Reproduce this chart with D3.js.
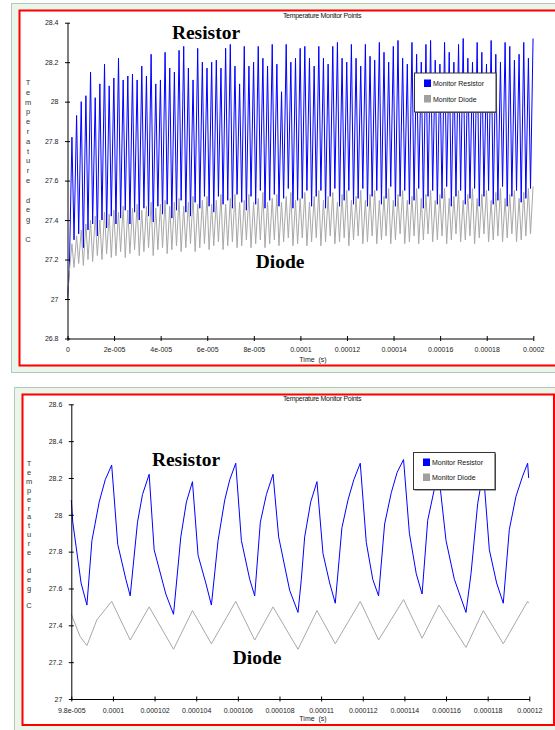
<!DOCTYPE html>
<html><head><meta charset="utf-8">
<script src="https://cdn.jsdelivr.net/npm/d3@7"></script>
<style>body{margin:0;background:#fff}svg{display:block}</style>
</head><body><svg id="c" width="555" height="730"></svg>
<script>
// ---------- DATA (top chart: per-cycle extremes, period 2 µs) ----------
const topResPeak = [27.82,27.93,28.00,28.03,28.15,28.02,28.09,28.19,28.08,28.12,
 28.22,28.11,28.13,28.14,28.11,28.18,28.13,28.24,28.09,28.11,
 28.25,28.17,28.15,28.26,28.28,28.17,28.11,28.27,28.20,28.17,
 28.20,28.21,28.17,28.27,28.29,28.18,28.09,28.28,28.18,28.20,
 28.28,28.22,28.18,28.29,28.19,28.05,28.29,28.20,28.22,28.27,
 28.28,28.22,28.18,28.28,28.22,28.19,28.28,28.30,28.22,28.20,
 28.29,28.22,28.18,28.29,28.23,28.21,28.30,28.25,28.20,28.28,
 28.31,28.22,28.19,28.30,28.24,28.20,28.29,28.31,28.21,28.19,
 28.30,28.25,28.20,28.29,28.32,28.22,28.20,28.30,28.25,28.19,
 28.31,28.24,28.20,28.30,28.28,28.21,28.24,28.30,28.22,28.32];
const topResTrough = [27.15,27.30,27.33,27.26,27.35,27.38,27.32,27.40,27.36,27.42,
 27.38,27.41,27.45,27.38,27.44,27.40,27.46,27.42,27.39,27.47,
 27.43,27.48,27.41,27.45,27.50,27.44,27.42,27.49,27.46,27.52,
 27.47,27.44,27.52,27.48,27.50,27.46,27.53,27.49,27.45,27.52,
 27.48,27.55,27.46,27.50,27.53,27.47,27.51,27.56,27.46,27.50,
 27.51,27.55,27.47,27.52,27.55,27.46,27.52,27.56,27.47,27.50,
 27.55,27.48,27.51,27.56,27.47,27.52,27.55,27.48,27.51,27.57,
 27.47,27.52,27.55,27.48,27.50,27.56,27.46,27.52,27.55,27.48,
 27.51,27.57,27.47,27.52,27.55,27.48,27.51,27.56,27.47,27.52,
 27.55,27.48,27.50,27.57,27.47,27.52,27.55,27.49,27.51,27.56];
const topDioPeak = [27.28,27.32,27.35,27.38,27.40,27.42,27.40,27.44,27.43,27.45,
 27.44,27.47,27.45,27.46,27.48,27.45,27.47,27.49,27.46,27.48,
 27.50,27.47,27.49,27.51,27.47,27.49,27.52,27.48,27.50,27.52,
 27.48,27.50,27.53,27.48,27.51,27.53,27.49,27.50,27.53,27.49,
 27.51,27.54,27.49,27.51,27.53,27.49,27.52,27.54,27.50,27.51,
 27.54,27.49,27.52,27.55,27.50,27.52,27.54,27.49,27.53,27.55,
 27.50,27.52,27.55,27.50,27.53,27.55,27.50,27.52,27.56,27.50,
 27.53,27.55,27.50,27.52,27.56,27.51,27.53,27.55,27.50,27.53,
 27.56,27.51,27.52,27.55,27.50,27.53,27.56,27.51,27.53,27.55,
 27.50,27.54,27.56,27.51,27.53,27.55,27.51,27.54,27.56,27.57];
const topDioTrough = [27.14,27.16,27.18,27.17,27.20,27.19,27.22,27.20,27.23,27.21,
 27.22,27.24,27.21,27.23,27.25,27.22,27.24,27.26,27.22,27.25,
 27.26,27.23,27.25,27.27,27.24,27.26,27.28,27.24,27.26,27.28,
 27.25,27.27,27.29,27.25,27.27,27.29,27.26,27.27,27.30,27.26,
 27.28,27.30,27.26,27.28,27.30,27.27,27.29,27.31,27.27,27.28,
 27.31,27.27,27.29,27.31,27.27,27.29,27.32,27.28,27.29,27.31,
 27.27,27.30,27.32,27.28,27.29,27.32,27.28,27.30,27.32,27.28,
 27.30,27.33,27.28,27.29,27.32,27.28,27.30,27.33,27.29,27.30,
 27.32,27.28,27.30,27.33,27.29,27.30,27.32,27.28,27.31,27.33,
 27.29,27.30,27.32,27.29,27.31,27.33,27.29,27.30,27.32,27.33];
const topStartValue = 27.0;

// ---------- DATA (bottom chart, µs / °C) ----------
const botResTime = [98.0,98.07,98.47,98.75,98.99,99.34,99.63,99.94,100.23,100.62,100.83,101.18,101.42,101.74,
 101.98,102.54,102.91,103.26,103.53,103.82,104.09,104.46,104.73,105.05,105.37,105.61,105.90,
 106.17,106.57,106.81,107.08,107.37,107.69,107.96,108.49,108.89,109.05,109.21,109.50,109.80,
 110.09,110.41,110.68,111.00,111.29,111.57,111.88,112.17,112.48,112.76,113.05,113.37,113.65,113.96,
 114.24,114.57,114.85,115.12,115.44,115.66,116.00,116.40,116.96,117.20,117.52,117.79,
 118.08,118.43,118.75,119.04,119.36,119.68,119.92,119.97];
const botResValue = [28.08,27.96,27.63,27.51,27.86,28.07,28.19,28.27,27.84,27.65,27.56,27.96,28.11,28.22,
 27.81,27.57,27.46,27.88,28.07,28.18,27.78,27.63,27.51,27.86,28.08,28.19,28.28,
 27.86,27.65,27.56,27.96,28.11,28.22,27.88,27.59,27.47,27.65,27.88,28.07,28.18,
 27.79,27.63,27.52,27.93,28.08,28.19,28.28,27.85,27.65,27.56,27.95,28.12,28.23,28.30,
 27.90,27.68,27.57,27.97,28.14,28.21,27.86,27.65,27.47,27.68,28.06,28.24,
 27.81,27.63,27.52,27.92,28.10,28.21,28.28,28.20];
const botDioTime = [98.0,98.42,98.75,99.23,99.94,100.83,101.74,102.91,103.82,104.73,105.90,106.81,107.69,
 108.89,109.80,110.68,111.88,112.76,113.96,114.85,115.66,116.96,117.79,118.75,119.92,119.97];
const botDioValue = [27.46,27.34,27.29,27.43,27.53,27.32,27.50,27.27,27.48,27.30,27.53,27.32,27.50,
 27.27,27.48,27.30,27.53,27.32,27.54,27.33,27.51,27.28,27.48,27.30,27.53,27.52];

const seriesNames = ["Monitor Resistor","Monitor Diode"];
const seriesColors = ["#0000ff","#a8a8a8"];
const title = "Temperature Monitor Points";
const yLabel = "Temperature deg C";
const xLabel = "Time  (s)";
const topYTicks = [26.8,27,27.2,27.4,27.6,27.8,28,28.2,28.4];
const topXTicks = [0,2e-5,4e-5,6e-5,8e-5,1e-4,1.2e-4,1.4e-4,1.6e-4,1.8e-4,2e-4];
const topXTickLabels = ["0","2e-005","4e-005","6e-005","8e-005","0.0001","0.00012","0.00014","0.00016","0.00018","0.0002"];
const botYTicks = [27,27.2,27.4,27.6,27.8,28,28.2,28.4,28.6];
const botXTicks = [9.8e-5,1e-4,1.02e-4,1.04e-4,1.06e-4,1.08e-4,1.1e-4,1.12e-4,1.14e-4,1.16e-4,1.18e-4,1.2e-4];
const botXTickLabels = ["9.8e-005","0.0001","0.000102","0.000104","0.000106","0.000108","0.00011","0.000112","0.000114","0.000116","0.000118","0.00012"];

// ---------- build series ----------
const period = 2e-6;
function cycles(peaks, troughs){
  const pts=[[0, topStartValue]];
  peaks.forEach((p,k)=>{ pts.push([k*period+0.8e-6, troughs[k]]); pts.push([k*period+1.9e-6, p]); });
  return pts;
}
const topRes = cycles(topResPeak, topResTrough);
const topDio = cycles(topDioPeak, topDioTrough);
const botRes = botResTime.map((t,i)=>[t*1e-6, botResValue[i]]);
const botDio = botDioTime.map((t,i)=>[t*1e-6, botDioValue[i]]);

const SANS = '"Liberation Sans", Arial, sans-serif';
const SERIF = '"Liberation Serif", "Times New Roman", serif';
const svg = d3.select("#c");

function panel(cfg){
  const g = svg.append("g");
  g.append("rect").attr("x",cfg.outer[0]+0.5).attr("y",cfg.outer[1]+0.5).attr("width",cfg.outer[2]).attr("height",cfg.outer[3])
    .attr("fill","#e9f6e9").attr("stroke","#b9c6b9");
  g.append("rect").attr("x",cfg.red[0]).attr("y",cfg.red[1]).attr("width",cfg.red[2]).attr("height",cfg.red[3])
    .attr("fill","#fff").attr("stroke","#ff0000").attr("stroke-width",2);
  const x = d3.scaleLinear().domain(cfg.xDomain).range(cfg.xRange);
  const y = d3.scaleLinear().domain(cfg.yDomain).range(cfg.yRange);
  const line = d3.line().x(d=>x(d[0])).y(d=>y(d[1]));
  g.append("path").datum(cfg.res).attr("d",line).attr("fill","none").attr("stroke",seriesColors[0]).attr("stroke-width",1);
  g.append("path").datum(cfg.dio).attr("d",line).attr("fill","none").attr("stroke",seriesColors[1]).attr("stroke-width",1);

  // axes
  const ya = d3.axisLeft(y).tickValues(cfg.yTicks).tickSize(0).tickPadding(9).tickFormat(d3.format("~g"));
  const yg = g.append("g").attr("transform",`translate(${cfg.xRange[0]},0)`).call(ya);
  const xa = d3.axisBottom(x).tickValues(cfg.xTicks).tickSize(0).tickPadding(9).tickFormat((d,i)=>cfg.xTickLabels[i]);
  const xg = g.append("g").attr("transform",`translate(0,${cfg.yRange[0]})`).call(xa);
  [yg,xg].forEach(a=>{
    a.attr("font-family",null).attr("font-size",null);
    a.select(".domain").attr("stroke","#000").attr("stroke-width",1);
    a.selectAll("text").style("font-size","7px").style("font-family",SANS).attr("fill","#222");
  });
  yg.selectAll(".tick").append("line").attr("x1",-2.5).attr("x2",2.5).attr("stroke","#000");
  xg.selectAll(".tick").append("line").attr("y1",-2.5).attr("y2",2.5).attr("stroke","#000");

  g.append("text").attr("x",cfg.titlePos[0]).attr("y",cfg.titlePos[1]).attr("text-anchor","middle")
    .style("font-family",SANS).style("font-size","7px").attr("letter-spacing","-0.3px").attr("fill","#111").text(title);
  g.append("text").attr("x",cfg.xLabelPos[0]).attr("y",cfg.xLabelPos[1]).attr("text-anchor","middle")
    .style("font-family",SANS).style("font-size","7px").attr("fill","#222").style("white-space","pre").text(xLabel);
  // vertical stacked y label
  const letters = yLabel.split("");
  g.append("g").selectAll("text").data(letters).join("text")
    .attr("x",cfg.yLabelPos[0]).attr("y",(d,i)=>cfg.yLabelPos[1]+i*cfg.yLabelStep).attr("text-anchor","middle")
    .style("font-family",SANS).style("font-size","7.5px").attr("fill","#333").text(d=>d);

  // big annotations
  g.append("text").attr("x",cfg.resLabel[0]).attr("y",cfg.resLabel[1]).attr("text-anchor","middle")
    .style("font-family",SERIF).style("font-weight","bold").style("font-size","19.5px").attr("fill","#000").text("Resistor");
  g.append("text").attr("x",cfg.dioLabel[0]).attr("y",cfg.dioLabel[1]).attr("text-anchor","middle")
    .style("font-family",SERIF).style("font-weight","bold").style("font-size","19.5px").attr("fill","#000").text("Diode");

  // legend
  const [lx,ly,lw,lh] = cfg.legend;
  const lg = g.append("g");
  lg.append("rect").attr("x",lx+1.5).attr("y",ly+1.5).attr("width",lw).attr("height",lh).attr("fill","#555");
  lg.append("rect").attr("x",lx+0.5).attr("y",ly+0.5).attr("width",lw).attr("height",lh).attr("fill","#fff").attr("stroke","#333");
  seriesNames.forEach((n,i)=>{
    const yy = ly + cfg.legendRow0 + i*cfg.legendStep;
    lg.append("rect").attr("x",lx+10).attr("y",yy-4).attr("width",7).attr("height",7.5).attr("fill",i===0?seriesColors[0]:"#a0a0a0");
    lg.append("text").attr("x",lx+19).attr("y",yy+2.5).style("font-family",SANS).style("font-size","7px").attr("fill","#111").text(n);
  });
}

panel({
  outer:[11,3,560,369], red:[19.5,10.5,560,355],
  xDomain:[0,2e-4], xRange:[67.5,533.3], yDomain:[26.8,28.4], yRange:[338.5,22.7],
  yTicks:topYTicks, xTicks:topXTicks, xTickLabels:topXTickLabels,
  res:topRes, dio:topDio,
  titlePos:[322,18], xLabelPos:[313,362], yLabelPos:[28,85], yLabelStep:9.8,
  resLabel:[206,39], dioLabel:[280,268],
  legend:[414,72.5,81.5,39], legendRow0:11, legendStep:15.5
});
panel({
  outer:[14,387,560,360], red:[22.5,394.5,531.5,330.5],
  xDomain:[9.8e-5,1.2e-4], xRange:[71.3,529.3], yDomain:[27,28.6], yRange:[699,404.3],
  yTicks:botYTicks, xTicks:botXTicks, xTickLabels:botXTickLabels,
  res:botRes, dio:botDio,
  titlePos:[322,400.5], xLabelPos:[313,721], yLabelPos:[29,466], yLabelStep:8.9,
  resLabel:[186,466], dioLabel:[257,664],
  legend:[413,452,81.5,37], legendRow0:10.5, legendStep:15
});
</script></body></html>
